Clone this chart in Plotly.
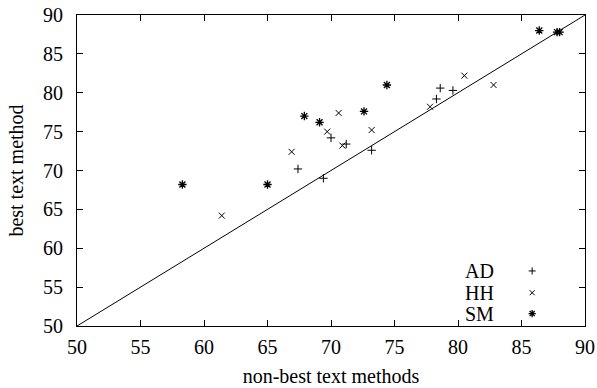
import plotly.graph_objects as go

# Data (x: non-best text methods, y: best text method)
ad_x = [67.4, 69.4, 70.0, 71.2, 73.2, 78.3, 78.6, 79.6]
ad_y = [70.2, 69.0, 74.2, 73.4, 72.6, 79.2, 80.6, 80.3]

hh_x = [61.4, 66.9, 69.7, 70.6, 70.9, 73.2, 77.8, 80.5, 82.8]
hh_y = [64.2, 72.4, 75.0, 77.4, 73.2, 75.2, 78.2, 82.2, 81.0]

sm_x = [58.3, 65.0, 67.9, 69.1, 72.6, 74.4, 86.4, 87.8, 88.0]
sm_y = [68.2, 68.2, 77.0, 76.2, 77.6, 81.0, 88.0, 87.8, 87.8]

diag = [50, 90]
ticks = [50, 55, 60, 65, 70, 75, 80, 85, 90]
series_names = ["AD", "HH", "SM"]

FONT = "Liberation Serif"
symbols = {"AD": "cross-thin-open", "HH": "x-thin-open", "SM": "asterisk-open"}
sizes = {"AD": 6, "HH": 6, "SM": 7}
widths = {"AD": 1, "HH": 1, "SM": 1.3}

fig = go.Figure()

fig.add_trace(go.Scatter(x=diag, y=diag, mode="lines",
                         line=dict(color="black", width=1), showlegend=False,
                         hoverinfo="skip"))

for name, xs, ys in [("AD", ad_x, ad_y), ("HH", hh_x, hh_y), ("SM", sm_x, sm_y)]:
    fig.add_trace(go.Scatter(
        x=xs, y=ys, mode="markers", name=name, showlegend=False,
        marker=dict(symbol=symbols[name], size=sizes[name], color="black",
                    line=dict(color="black", width=widths[name]))))

# Gnuplot-style key: text right-aligned, sample symbol to its right
key_y = [0.177, 0.107, 0.04]
for name, ky in zip(series_names, key_y):
    fig.add_trace(go.Scatter(
        x=[0.896], y=[ky], xaxis="x2", yaxis="y2", mode="markers",
        showlegend=False, hoverinfo="skip",
        marker=dict(symbol=symbols[name], size=sizes[name] - 1, color="black",
                    line=dict(color="black", width=widths[name]))))
    fig.add_annotation(x=0.822, y=ky, xref="x2", yref="y2", text=name,
                       showarrow=False, xanchor="right", yanchor="middle",
                       height=20, borderpad=0,
                       font=dict(family=FONT, size=20, color="black"))

axis_common = dict(
    range=[50, 90], tickvals=ticks, ticks="inside", ticklen=6,
    tickcolor="black", tickwidth=1, showline=True, linecolor="black",
    linewidth=1, mirror="allticks", showgrid=False, zeroline=False,
    automargin=False,
    tickfont=dict(family=FONT, size=20, color="black"),
)

fig.update_layout(
    width=597, height=388,
    margin=dict(l=77, r=12, t=15, b=62),
    plot_bgcolor="white", paper_bgcolor="white",
    font=dict(family=FONT, size=18, color="black"),
    xaxis=dict(**axis_common, ticklabelstandoff=3,
               title=dict(text="non-best text methods", standoff=11,
                          font=dict(family=FONT, size=20))),
    yaxis=dict(**axis_common, ticklabelstandoff=9,
               title=dict(text="best text method", standoff=14,
                          font=dict(family=FONT, size=20))),
    xaxis2=dict(overlaying="x", range=[0, 1], visible=False),
    yaxis2=dict(overlaying="y", range=[0, 1], visible=False),
)

fig.write_html(
    "out.html",
    config={"displayModeBar": False},
    post_script="document.body.style.margin='0';document.body.style.padding='0';",
)
